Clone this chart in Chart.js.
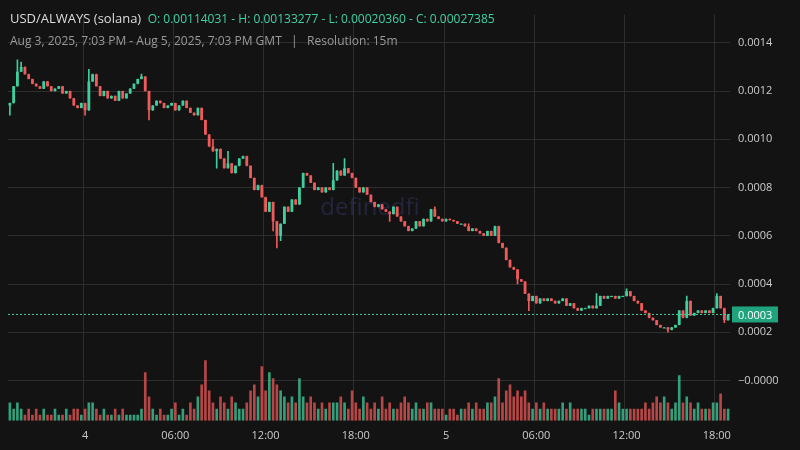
<!DOCTYPE html>
<html><head><meta charset="utf-8">
<script src="https://cdn.jsdelivr.net/npm/chart.js@4"></script>
<style>
html,body{margin:0;background:#131313;}
#wrap{position:relative;width:800px;height:450px;font-family:"Open Sans",sans-serif;}
#t1{position:absolute;left:10px;top:9px;font-size:13px;color:#ddd;white-space:nowrap;}
#t1 span{color:#3fd1a6;font-size:12px;}
#t2{position:absolute;left:10px;top:32px;font-size:12px;color:#9a9a9a;white-space:nowrap;}
</style></head><body>
<div id="wrap"><canvas id="c" width="800" height="450"></canvas>
<div id="t1">USD/ALWAYS (solana) <span>&nbsp;O: 0.00114031 - H: 0.00133277 - L: 0.00020360 - C: 0.00027385</span></div>
<div id="t2">Aug 3, 2025, 7:03 PM - Aug 5, 2025, 7:03 PM GMT &nbsp; | &nbsp; Resolution: 15m</div>
</div>
<script>
// 15m candles, Aug 3 19:00 -> Aug 5 18:45 (closes in units of 0.001)
const FIRST_OPEN = 1.14031;
const closes = [
  1.15,1.22,1.28,1.30,1.27,1.25,1.23,1.22, 1.21,1.24,1.22,1.20,1.21,1.22,1.19,1.20,
  1.17,1.14,1.13,1.15,1.12,1.24,1.27,1.22, 1.18,1.20,1.17,1.18,1.16,1.20,1.17,1.19,
  1.21,1.23,1.25,1.26,1.20,1.12,1.14,1.16, 1.15,1.13,1.14,1.15,1.12,1.14,1.16,1.13,
  1.11,1.10,1.13,1.08,1.02,0.97,0.95,0.96, 0.92,0.88,0.90,0.86,0.89,0.92,0.93,0.89,
  0.84,0.79,0.81,0.76,0.70,0.74,0.66,0.60, 0.65,0.72,0.70,0.75,0.73,0.80,0.86,0.85,
  0.82,0.79,0.80,0.78,0.80,0.79,0.83,0.87, 0.85,0.88,0.86,0.84,0.80,0.78,0.80,0.77,
  0.74,0.72,0.73,0.71,0.70,0.69,0.72,0.68, 0.66,0.64,0.62,0.63,0.66,0.64,0.67,0.66,
  0.71,0.68,0.67,0.66,0.67,0.665,0.66,0.65, 0.65,0.64,0.62,0.63,0.62,0.61,0.60,0.62,
  0.60,0.64,0.57,0.55,0.50,0.47,0.46,0.42, 0.41,0.36,0.33,0.35,0.32,0.34,0.33,0.34,
  0.33,0.32,0.33,0.34,0.31,0.32,0.30,0.29, 0.30,0.30,0.31,0.30,0.31,0.35,0.34,0.35,
  0.35,0.34,0.35,0.35,0.37,0.35,0.33,0.32, 0.29,0.28,0.26,0.25,0.23,0.22,0.22,0.21,
  0.22,0.23,0.29,0.26,0.33,0.27,0.28,0.29, 0.28,0.29,0.28,0.30,0.35,0.30,0.25,0.27385
];
// notable wick extremes (index -> price, units 0.001)
const highWicks = {2:1.33,3:1.32,21:1.29,35:1.27,54:1.00,58:0.95,86:0.90,89:0.92,113:0.72,122:0.65,130:0.64,156:0.36,164:0.38,180:0.35,188:0.36};
const lowWicks = {0:1.10,20:1.10,37:1.08,55:0.88,70:0.62,71:0.55,72:0.58,101:0.66,135:0.40,138:0.29,175:0.20,190:0.24};
const volumes = [
  3,2,3,2,1,2,1,2, 1,2,1,1,2,1,1,2, 1,2,2,1,2,3,3,2, 1,2,1,1,2,1,2,1,
  1,1,1,2,8,4,2,1, 2,1,1,2,3,1,2,1, 3,2,4,6,10,5,3,2, 4,3,2,4,3,2,2,3,
  5,6,4,9,5,8,7,6, 5,4,3,4,3,7,4,3, 4,3,2,3,2,3,3,3, 4,3,2,5,3,2,4,3,
  2,3,2,4,2,3,2,2, 3,4,3,2,3,2,2,3, 3,2,2,2,1,2,2,1, 2,2,3,2,3,2,2,3,
  3,4,7,3,5,6,4,5, 4,5,3,2,3,2,3,2, 2,2,2,3,2,3,2,2, 2,2,1,2,2,2,2,2,
  2,5,3,2,2,2,2,2, 2,3,2,3,4,3,4,3, 2,3,7.5,3,4,3,2,3, 2,2,2,3,3,4.5,2,2
];
const timeTicks = {20:"4",44:"06:00",68:"12:00",92:"18:00",116:"5",140:"06:00",164:"12:00",188:"18:00"};
const LAST = 0.00027385;

const UP = "#3fcf9f", DN = "#ef5a5a";
const labels = closes.map((_, i) => i);
const opens = closes.map((c, i) => i === 0 ? FIRST_OPEN : closes[i - 1]);
const k = 0.001;
const bodies = closes.map((c, i) => [opens[i] * k, c * k]);
const wicks = closes.map((c, i) => [
  (lowWicks[i] ?? Math.min(opens[i], c)) * k,
  (highWicks[i] ?? Math.max(opens[i], c)) * k]);
const col = closes.map((c, i) => c >= opens[i] ? UP : DN);
const vcol = col.map((c) => c === UP ? "rgba(63,207,159,0.75)" : "rgba(239,90,90,0.75)");

const overlay = {
  id: "overlay",
  beforeDatasetsDraw(ch) {
    const { ctx } = ch;
    ctx.save();
    ctx.font = "24px 'Open Sans'"; ctx.fillStyle = "rgba(70,70,140,0.35)";
    ctx.textAlign = "center"; ctx.fillText("definedfi", 370, 215);
    ctx.restore();
  },
  afterDraw(ch) {
    const { ctx, chartArea: a, scales } = ch;
    const y = scales.y.getPixelForValue(LAST);
    ctx.save();
    ctx.strokeStyle = UP; ctx.setLineDash([2, 2]); ctx.lineWidth = 1;
    ctx.beginPath(); ctx.moveTo(a.left, y); ctx.lineTo(a.right, y); ctx.stroke();
    ctx.setLineDash([]);
    ctx.fillStyle = "#1fa37d"; ctx.fillRect(a.right + 2, y - 8, 46, 16);
    ctx.fillStyle = "#fff"; ctx.font = "11px 'Open Sans'"; ctx.textBaseline = "middle";
    ctx.fillText("0.0003", a.right + 8, y + 1);
    ctx.restore();
  }
};

new Chart(document.getElementById("c"), {
  type: "bar",
  data: { labels, datasets: [
    { data: volumes, backgroundColor: vcol, yAxisID: "yv", barPercentage: 0.7, categoryPercentage: 1, grouped: false, order: 3 },
    { data: wicks, backgroundColor: col, yAxisID: "y", barThickness: 1, grouped: false, order: 2 },
    { data: bodies, backgroundColor: col, yAxisID: "y", barPercentage: 0.75, categoryPercentage: 1, grouped: false, order: 1, minBarLength: 1 }
  ] },
  options: {
    responsive: false, animation: false, events: [],
    layout: { padding: { left: 8, top: 8, right: 0, bottom: 0 } },
    plugins: { legend: { display: false }, tooltip: { enabled: false } },
    scales: {
      x: {
        offset: true,
        grid: { color: (c) => timeTicks[c.tick?.value] !== undefined ? "#2e2e2e" : "transparent", drawTicks: false },
        border: { display: false },
        ticks: { autoSkip: false, maxRotation: 0, color: "#ccc", font: { size: 11, family: "Open Sans" }, padding: 8,
          callback: (v) => timeTicks[v] ?? "" }
      },
      y: {
        position: "right", min: -0.000167, max: 0.001517,
        afterBuildTicks: (s) => { s.ticks = [0, 0.0002, 0.0004, 0.0006, 0.0008, 0.001, 0.0012, 0.0014].map((v) => ({ value: v })); },
        afterFit: (s) => { s.width = 70; },
        grid: { color: "#2e2e2e", drawTicks: false },
        border: { display: false },
        ticks: { color: "#ccc", font: { size: 11, family: "Open Sans" }, padding: 8,
          callback: (v) => v === 0 ? "\u22120.0000" : v.toFixed(4) }
      },
      yv: { display: false, min: 0, max: 67 }
    }
  },
  plugins: [overlay]
});
</script>
</body></html>
